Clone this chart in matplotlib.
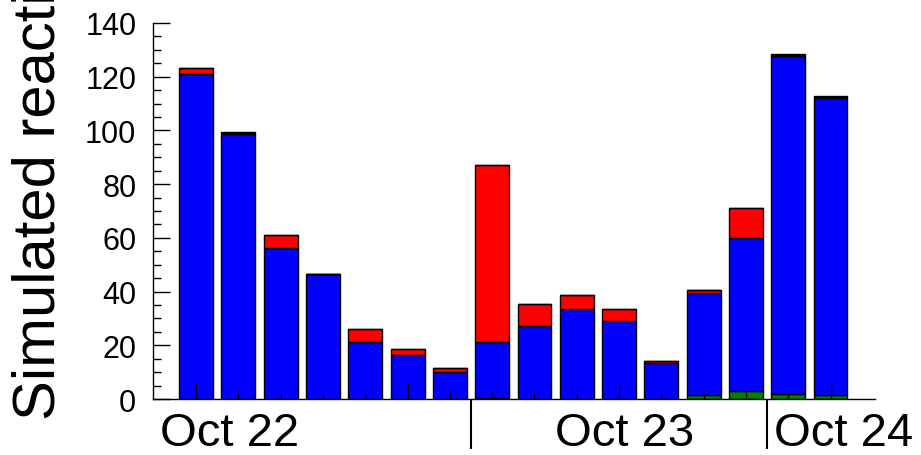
import numpy as np
import matplotlib
matplotlib.use("Agg")
import matplotlib.pyplot as plt
import matplotlib.transforms as mtransforms

plt.rcParams['font.family'] = ['Liberation Sans', 'DejaVu Sans']

# ----------
# DONNEES (3-hourly bins, Oct 22 - Oct 24)

green = [0, 0, 0, 0, 0, 0, 0, 0.3, 0, 0, 0, 0, 1.5, 2.8, 1.9, 1.5]
blue = [121.1, 98.5, 56.3, 46.4, 21.1, 16.5, 9.9, 21.1,
        27.1, 33.6, 28.9, 13.5, 37.9, 57.0, 125.7, 110.4]
red = [2.1, 0, 4.9, 0, 5.0, 2.1, 1.5, 65.7,
       8.1, 5.0, 4.7, 0.5, 1.0, 11.4, 0, 0]
black = [0, 0.9, 0, 0, 0, 0, 0, 0, 0, 0, 0, 0, 0, 0, 0.8, 1.0]

day_labels = ["Oct 22", "Oct 23", "Oct 24"]
day_label_pos = [0.8, 10.14, 15.3]
day_bounds = [6.5, 13.5]

# -------------------
# FIGURE

fig = plt.figure(figsize=(9.21, 4.56), dpi=100)
ax = fig.add_axes([0.1661, 0.1228, 0.7839, 0.8246])

x = np.arange(len(blue))
bottom = np.zeros(len(blue))
for vals, col in [(green, '#008000'), (blue, '#0000ff'), (red, '#ff0000'), (black, '#000000')]:
    vals = np.array(vals)
    ax.bar(x, vals, width=0.8, bottom=bottom, color=col,
           edgecolor='black', linewidth=1.0)
    bottom += vals

ax.set_xlim(-1.02, 16.05)
ax.set_ylim(0, 140)

for s in ['top', 'right']:
    ax.spines[s].set_visible(False)
ax.spines['left'].set_linewidth(1.0)
ax.spines['bottom'].set_linewidth(1.0)

# y ticks
ax.set_yticks(np.arange(0, 141, 20))
ax.set_yticks(np.arange(0, 141, 5), minor=True)
ax.tick_params(axis='y', which='major', direction='in', length=12, width=1,
               labelsize=22, pad=12)
ax.tick_params(axis='y', which='minor', direction='in', length=6, width=1)

# x ticks: one per bin, longer every 5 bins
ax.set_xticks([0, 5, 10, 15])
ax.set_xticks(x, minor=True)
ax.tick_params(axis='x', which='major', direction='in', length=11.5, width=1,
               labelbottom=False)
ax.tick_params(axis='x', which='minor', direction='in', length=5, width=1)

# day separators and labels
trans = mtransforms.blended_transform_factory(ax.transData, ax.transAxes)
for b in day_bounds:
    ax.plot([b, b], [-0.005, -0.13], color='black', lw=1.5,
            transform=trans, clip_on=False)
for lab, p in zip(day_labels, day_label_pos):
    ax.text(p, -0.122, lab, transform=trans, ha='center', va='baseline',
            fontsize=34)

fig.text(0.0597, 0.079, "Simulated reactivity", rotation=90,
         rotation_mode='anchor', ha='left', va='baseline', fontsize=43)

fig.savefig("out.png", dpi=100)
